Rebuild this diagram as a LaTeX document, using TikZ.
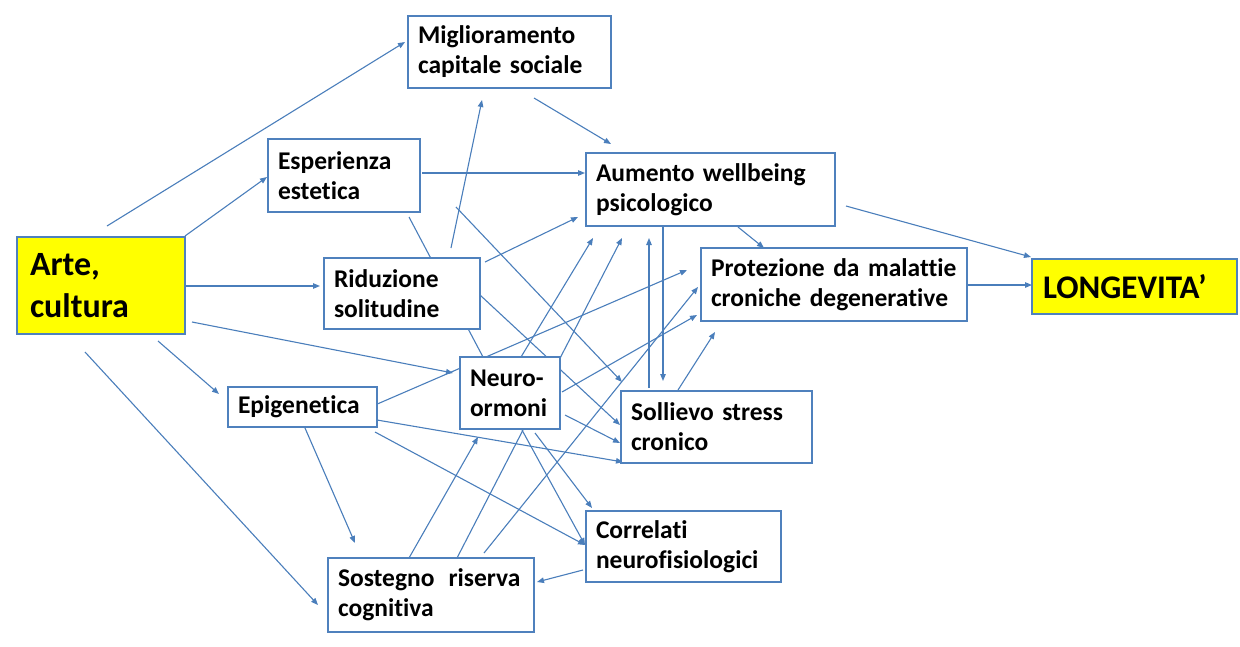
\documentclass[tikz,border=0pt]{standalone}
\usepackage{fontspec}
\setmainfont{Carlito}[Ligatures=NoCommon]
\usetikzlibrary{arrows.meta}
\definecolor{lineblue}{RGB}{74,126,187}
\definecolor{boxblue}{RGB}{79,129,189}
\definecolor{hiyellow}{RGB}{255,255,0}
\pgfdeclarelayer{bg}
\pgfsetlayers{bg,main}
\begin{document}
\begin{tikzpicture}[x=1pt,y=-1pt,
  box/.style={draw=boxblue, line width=1.4pt, fill=white, align=left, inner xsep=10pt, inner ysep=2pt,
    font=\bfseries\fontsize{25.5}{30}\selectfont},
  bigbox/.style={box, fill=hiyellow, font=\bfseries\fontsize{34}{42}\selectfont},
  conn/.style={draw=lineblue, line width=1.1pt, -{Triangle[length=7pt,width=5.5pt]}},
  plainconn/.style={draw=lineblue, line width=1.1pt},
]
\useasboundingbox (0,0) rectangle (1240,646);

% nodes
\node[box, minimum width=203pt, minimum height=72pt, text width=183pt] (migl) at (509.5,52) {Miglioramento\\capitale~sociale};
\node[box, minimum width=152pt, minimum height=73pt, text width=132pt] (esp) at (344,175.5) {Esperienza\\estetica};
\node[box, minimum width=249pt, minimum height=73pt, text width=229pt] (aum) at (710.5,189.5) {Aumento~wellbeing\\psicologico};
\node[bigbox, inner xsep=13pt, minimum width=168pt, minimum height=97pt, text width=142pt] (arte) at (101,285.5) {Arte,\\cultura};
\node[box, minimum width=156pt, minimum height=71pt, text width=136pt] (rid) at (402,293.5) {Riduzione\\solitudine};
\node[box, minimum width=266pt, minimum height=73pt, text width=246pt] (prot) at (834,284.5) {Protezione~da~malattie\\croniche~degenerative};
\node[bigbox, inner xsep=11pt, minimum width=205pt, minimum height=55pt, text width=183pt, font=\bfseries\fontsize{33}{40}\selectfont] (long) at (1134.5,286.5) {LONGEVITA’};
\node[box, minimum width=100pt, minimum height=72pt, text width=80pt] (neuro) at (510,393) {Neuro-\\ormoni};
\node[box, minimum width=149pt, minimum height=40pt, text width=129pt] (epi) at (302.5,407) {Epigenetica};
\node[box, minimum width=191pt, minimum height=72pt, text width=171pt] (soll) at (716.5,427) {Sollievo~stress\\cronico};
\node[box, minimum width=195pt, minimum height=71pt, text width=175pt] (corr) at (683.5,546.5) {Correlati\\neurofisiologici};
\node[box, minimum width=206pt, minimum height=74pt, text width=186pt] (sost) at (431,595) {Sostegno\hspace*{14pt}riserva\\cognitiva};

% connector end points
\coordinate (arte-o1) at (107,226);   \coordinate (migl-i1) at (405,42);
\coordinate (arte-o2) at (185,236);   \coordinate (esp-i1) at (267,177);
\coordinate (arte-o3) at (185,286);   \coordinate (rid-i1) at (320,286);
\coordinate (arte-o4) at (192,322);   \coordinate (neuro-i1) at (453,373);
\coordinate (arte-o5) at (158,341);   \coordinate (epi-i1) at (219,394);
\coordinate (arte-o6) at (85,352);    \coordinate (sost-i1) at (318,605);
\coordinate (migl-o1) at (534,98);    \coordinate (aum-i1) at (611,144);
\coordinate (esp-o1) at (422,173);    \coordinate (aum-i2) at (585,173);
\coordinate (esp-o2) at (409,217);    \coordinate (neuro-t1) at (483,357);
\coordinate (esp-o3) at (456,207);    \coordinate (soll-i1) at (622,382);
\coordinate (rid-o1) at (451,248);    \coordinate (migl-i2) at (482,100);
\coordinate (rid-o2) at (485,262);    \coordinate (aum-i3) at (578,217);
\coordinate (rid-o3) at (480,295);    \coordinate (soll-i2) at (620,425);
\coordinate (neuro-o1) at (521,357);  \coordinate (aum-i4) at (593,238);
\coordinate (sost-o1) at (457,558);   \coordinate (aum-i5) at (622,238);
\coordinate (epi-o1) at (375,405);    \coordinate (prot-i1) at (687,270);
\coordinate (sost-o2) at (484,553);   \coordinate (prot-i2) at (698,287);
\coordinate (neuro-o2) at (562,392);  \coordinate (prot-i3) at (697,315);
\coordinate (soll-o1) at (678,390);   \coordinate (prot-i4) at (715,332);
\coordinate (aum-o1) at (738,227);    \coordinate (prot-i5) at (764,248);
\coordinate (prot-o1) at (968,285);   \coordinate (long-i1) at (1032,285);
\coordinate (aum-o2) at (846,206);    \coordinate (long-i2) at (1031,257);
\coordinate (soll-o2) at (649,388);   \coordinate (aum-i6) at (649,238);
\coordinate (aum-o3) at (663,227);    \coordinate (soll-i3) at (663,381);
\coordinate (epi-o2) at (377,420);    \coordinate (soll-i4) at (623,462);
\coordinate (neuro-o3) at (565,415);  \coordinate (soll-i5) at (620,443);
\coordinate (neuro-o4) at (535,433);  \coordinate (corr-i1) at (592,508);
\coordinate (neuro-o5) at (522,430);  \coordinate (corr-i2) at (585,545);
\coordinate (epi-o3) at (375,432);
\coordinate (epi-o4) at (305,428);    \coordinate (sost-i2) at (355,543);
\coordinate (corr-o1) at (583,570);   \coordinate (sost-i3) at (537,582);
\coordinate (sost-o3) at (409,558);   \coordinate (neuro-i2) at (478,437);

\begin{pgfonlayer}{bg}
\draw[conn] (arte-o1) -- (migl-i1);
\draw[conn] (arte-o2) -- (esp-i1);
\draw[conn] (arte-o3) -- (rid-i1);
\draw[conn] (arte-o4) -- (neuro-i1);
\draw[conn] (arte-o5) -- (epi-i1);
\draw[conn] (arte-o6) -- (sost-i1);
\draw[conn] (migl-o1) -- (aum-i1);
\draw[conn] (esp-o1) -- (aum-i2);
\draw[plainconn] (esp-o2) -- (neuro-t1);
\draw[conn] (esp-o3) -- (soll-i1);
\draw[conn] (rid-o1) -- (migl-i2);
\draw[conn] (rid-o2) -- (aum-i3);
\draw[conn] (rid-o3) -- (soll-i2);
\draw[conn] (neuro-o1) -- (aum-i4);
\draw[conn] (sost-o1) -- (aum-i5);
\draw[conn] (epi-o1) -- (prot-i1);
\draw[conn] (sost-o2) -- (prot-i2);
\draw[conn] (neuro-o2) -- (prot-i3);
\draw[conn] (soll-o1) -- (prot-i4);
\draw[conn] (aum-o1) -- (prot-i5);
\draw[conn] (prot-o1) -- (long-i1);
\draw[conn] (aum-o2) -- (long-i2);
\draw[conn] (soll-o2) -- (aum-i6);
\draw[conn] (aum-o3) -- (soll-i3);
\draw[conn] (epi-o2) -- (soll-i4);
\draw[conn] (neuro-o3) -- (soll-i5);
\draw[conn] (neuro-o4) -- (corr-i1);
\draw[conn] (neuro-o5) -- (corr-i2);
\draw[conn] (epi-o3) -- (corr-i2);
\draw[conn] (epi-o4) -- (sost-i2);
\draw[conn] (corr-o1) -- (sost-i3);
\draw[conn] (sost-o3) -- (neuro-i2);
\end{pgfonlayer}
\end{tikzpicture}
\end{document}
